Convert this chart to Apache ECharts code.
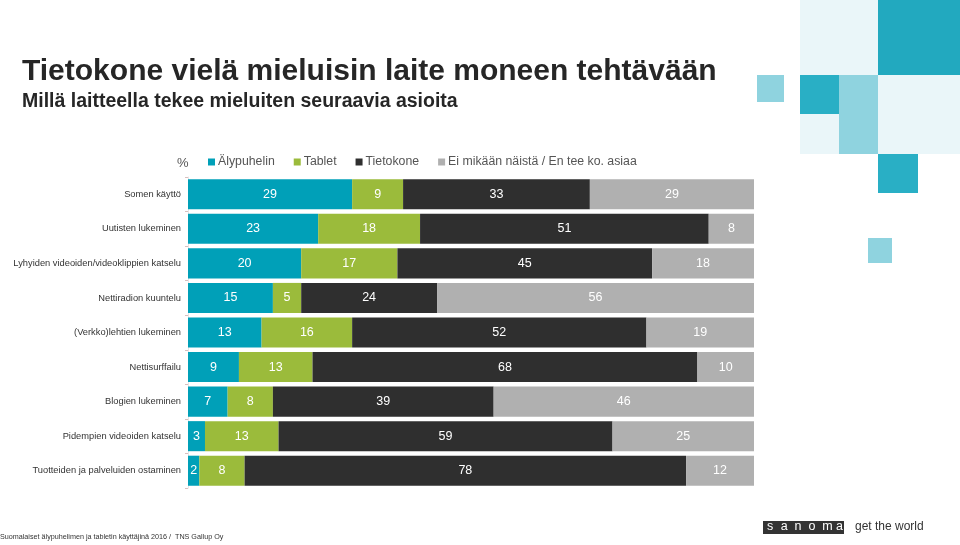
<!DOCTYPE html>
<html><head><meta charset="utf-8">
<script src="https://cdn.jsdelivr.net/npm/echarts@6/dist/echarts.min.js"></script>
<style>html,body{margin:0;padding:0;background:#fff}#c{width:960px;height:545px}</style>
</head><body><div id="c"></div>
<script>
const categories = ["Somen käyttö","Uutisten lukeminen","Lyhyiden videoiden/videoklippien katselu","Nettiradion kuuntelu","(Verkko)lehtien lukeminen","Nettisurffailu","Blogien lukeminen","Pidempien videoiden katselu","Tuotteiden ja palveluiden ostaminen"];
const seriesNames = ["Älypuhelin","Tablet","Tietokone","Ei mikään näistä / En tee ko. asiaa"];
const alypuhelin = [29,23,20,15,13,9,7,3,2];
const tablet = [9,18,17,5,16,13,8,13,8];
const tietokone = [33,51,45,24,52,68,39,59,78];
const eiMikaan = [29,8,18,56,19,10,46,25,12];
const colors = ["#00a0b8","#9bbb3b","#2f2f2f","#b0b0b0"];
const values = [alypuhelin, tablet, tietokone, eiMikaan];

const chart = echarts.init(document.getElementById('c'), null, {renderer:'canvas'});
const font = "Liberation Sans, Arial, Helvetica, sans-serif";

const deco = [
  {x:800,y:0,w:78,h:75,c:"#eaf6f9"},
  {x:878,y:0,w:82,h:75,c:"#22a9bf"},
  {x:757,y:75,w:27,h:27,c:"#8fd3df"},
  {x:800,y:75,w:39,h:39,c:"#29afc5"},
  {x:839,y:75,w:39,h:79,c:"#8fd3df"},
  {x:800,y:114,w:39,h:40,c:"#eaf6f9"},
  {x:878,y:75,w:82,h:79,c:"#eaf6f9"},
  {x:878,y:154,w:40,h:39,c:"#29afc5"},
  {x:868,y:238,w:24,h:25,c:"#8fd3df"}
];
const graphics = deco.map(d => ({type:'rect', shape:{x:d.x,y:d.y,width:d.w,height:d.h}, style:{fill:d.c}, silent:true, z:-1}));
graphics.push(
  {type:'text', left:22, top:57, style:{text:"Tietokone vielä mieluisin laite moneen tehtävään", font:"bold 30px "+font, fill:"#262626"}},
  {type:'text', left:22, top:92, style:{text:"Millä laitteella tekee mieluiten seuraavia asioita", font:"bold 19.5px "+font, fill:"#262626"}},
  {type:'text', left:177, top:157, style:{text:"%", font:"13px "+font, fill:"#555"}},
  {type:'text', left:0, top:534, style:{text:"Suomalaiset älypuhelimen ja tabletin käyttäjinä 2016 /  TNS Gallup Oy", font:"7.2px "+font, fill:"#333"}},
  {type:'rect', shape:{x:763,y:521,width:81,height:13}, style:{fill:"#333"}},
  {type:'text', left:855, top:521, style:{text:"get the world", font:"12px "+font, fill:"#333"}}
);
"sanoma".split("").forEach((ch,i)=>{
  graphics.push({type:'text', left:767+i*13.8, top:520, style:{text:ch, font:"12.5px "+font, fill:"#fff"}});
});

chart.setOption({
  animation:false,
  color: colors,
  textStyle:{fontFamily:font},
  legend:{
    left:203, top:151, itemWidth:7, itemHeight:7, itemGap:19, icon:'rect',
    textStyle:{fontSize:12.3, color:"#555", padding:[0,0,0,-2]},
    data: seriesNames
  },
  grid:{left:188, right:206, top:177, bottom:57, containLabel:false, outerBoundsMode:'none'},
  xAxis:{type:'value', min:0, max:100, show:false},
  yAxis:{
    type:'category', data:categories, inverse:true,
    axisLine:{show:true, lineStyle:{color:"#e6e6e6"}},
    axisTick:{show:true, length:3, lineStyle:{color:"#d9bfbf"}},
    axisLabel:{fontSize:9.3, color:"#333", margin:7}
  },
  graphic: graphics,
  series: seriesNames.map((n,i)=>({
    name:n, type:'bar', stack:'total', data:values[i], barCategoryGap:'13%',
    itemStyle:{color:colors[i]},
    label:{show:true, position:'inside', color:"#fff", fontSize:12.5}
  }))
});
</script></body></html>
